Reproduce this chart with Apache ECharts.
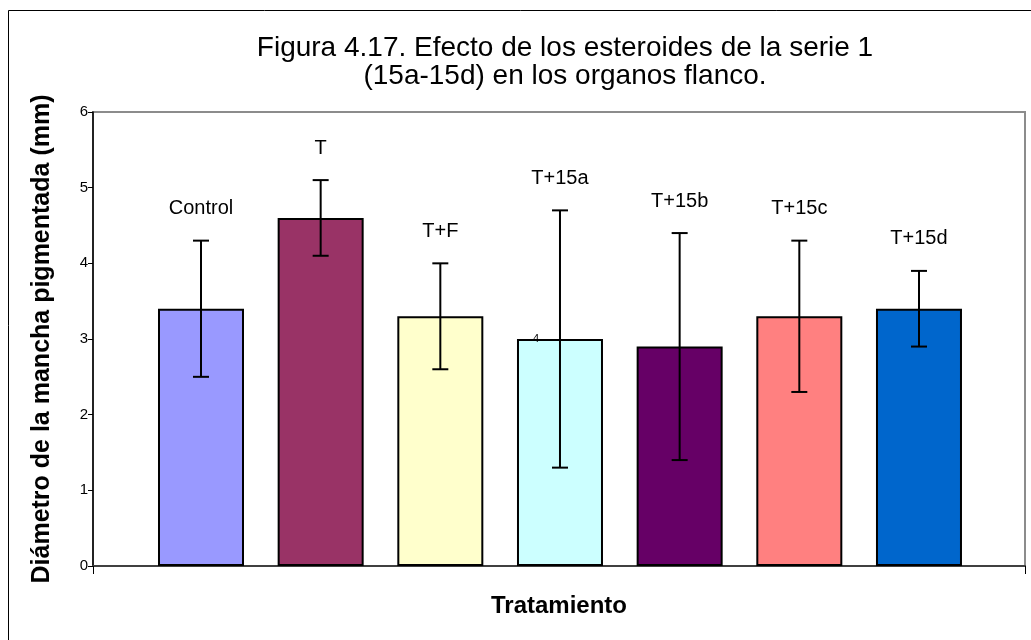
<!DOCTYPE html>
<html>
<head>
<meta charset="utf-8">
<title>Figura 4.17</title>
<script src="https://cdn.jsdelivr.net/npm/echarts@6/dist/echarts.min.js"></script>
<style>
  html, body { margin: 0; padding: 0; background: #fff; }
  #chart { width: 1031px; height: 640px; }
</style>
</head>
<body>
<div id="chart"></div>
<script>
// data
const categories = ['Control', 'T', 'T+F', 'T+15a', 'T+15b', 'T+15c', 'T+15d'];
const means = [3.4, 4.6, 3.3, 3.0, 2.9, 3.3, 3.4];
const errLow = [2.5, 4.1, 2.6, 1.3, 1.4, 2.3, 2.9];
const errHigh = [4.3, 5.1, 4.0, 4.7, 4.4, 4.3, 3.9];
const barColors = ['#9999ff', '#993366', '#ffffcc', '#ccffff', '#660066', '#ff8080', '#0066cc'];
const yTicks = [0, 1, 2, 3, 4, 5, 6];

const FONT = 'Arial, "Liberation Sans", sans-serif';

const chart = echarts.init(document.getElementById('chart'));

const option = {
  backgroundColor: '#fff',
  animation: false,
  title: {
    text: 'Figura 4.17. Efecto de los esteroides de la serie 1\n(15a-15d) en los organos flanco.',
    left: 560,
    top: 29,
    textAlign: 'center',
    textStyle: { fontFamily: FONT, fontSize: 28, fontWeight: 'normal', color: '#000', lineHeight: 28 }
  },
  grid: {
    left: 93, top: 112, right: 6, bottom: 74,
    show: true, borderColor: '#8c8c8c', borderWidth: 2, backgroundColor: '#fff'
  },
  xAxis: [{
    type: 'value',
    min: -0.9025,
    max: 6.886,
    name: 'Tratamiento',
    nameLocation: 'middle',
    nameGap: 28,
    nameTextStyle: { fontFamily: FONT, fontSize: 24, fontWeight: 'bold', color: '#000' },
    axisLine: { show: true, onZero: false, lineStyle: { color: '#404040', width: 2 } },
    axisTick: { show: false },
    axisLabel: { show: false },
    splitLine: { show: false }
  }, {
    type: 'value',
    position: 'bottom',
    min: 0, max: 1, interval: 1,
    axisLine: { show: false },
    axisTick: { show: true, length: 8, lineStyle: { color: '#000', width: 1 } },
    axisLabel: { show: false },
    splitLine: { show: false }
  }],
  yAxis: {
    type: 'value',
    min: yTicks[0],
    max: yTicks[yTicks.length - 1],
    interval: 1,
    name: 'Diámetro de la mancha pigmentada (mm)',
    nameLocation: 'middle',
    nameRotate: 90,
    nameGap: 38,
    nameTextStyle: { fontFamily: FONT, fontSize: 25, fontWeight: 'bold', color: '#000' },
    axisLine: { show: true, onZero: false, lineStyle: { color: '#000', width: 1.5 } },
    axisTick: { show: true, length: 5, lineStyle: { color: '#000' } },
    axisLabel: { fontFamily: FONT, fontSize: 15, color: '#000', margin: 5 },
    splitLine: { show: false }
  },
  series: [{
    type: 'bar',
    barWidth: 86,
    data: means.map((v, i) => ({ value: [i, v], itemStyle: { color: barColors[i] } })),
    itemStyle: { borderColor: '#000', borderWidth: 2 },
    z: 2
  }, {
    type: 'custom',
    z: 5,
    data: categories.map((c, i) => [i, errLow[i], errHigh[i]]),
    renderItem: function (params, api) {
      const i = api.value(0);
      const lo = api.coord([i, api.value(1)]);
      const hi = api.coord([i, api.value(2)]);
      const cap = 8;
      const line = { stroke: '#000', lineWidth: 2 };
      return {
        type: 'group',
        children: [
          { type: 'line', shape: { x1: hi[0], y1: hi[1], x2: lo[0], y2: lo[1] }, style: line },
          { type: 'line', shape: { x1: hi[0] - cap, y1: hi[1], x2: hi[0] + cap, y2: hi[1] }, style: line },
          { type: 'line', shape: { x1: lo[0] - cap, y1: lo[1], x2: lo[0] + cap, y2: lo[1] }, style: line },
          {
            type: 'text',
            style: {
              text: categories[params.dataIndex],
              x: hi[0], y: hi[1] - 32,
              align: 'center', verticalAlign: 'middle',
              fontFamily: FONT, fontSize: 20, fill: '#000'
            }
          }
        ]
      };
    }
  }],
  graphic: [{
    type: 'rect',
    shape: { x: 8.5, y: 10.5, width: 1040, height: 660 },
    style: { fill: null, stroke: '#000', lineWidth: 1 },
    silent: true
  }, {
    type: 'text',
    left: 533, top: 333,
    z: 10,
    style: { text: '4', fontFamily: FONT, fontSize: 11, fill: '#000' }
  }]
};

chart.setOption(option);
</script>
</body>
</html>
